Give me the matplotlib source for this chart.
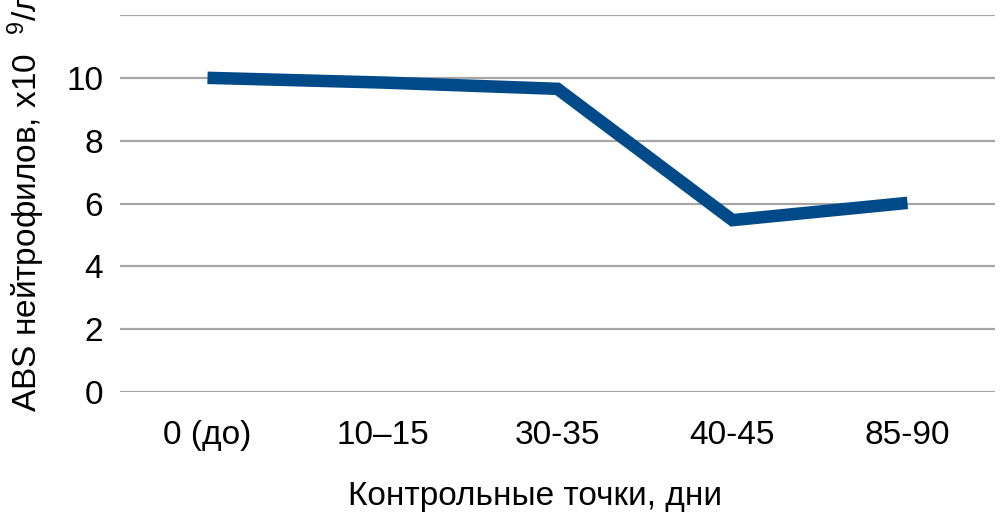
import matplotlib
matplotlib.use('Agg')
import matplotlib.pyplot as plt

# Данные
points = ['0 (до)', '10–15', '30-35', '40-45', '85-90']
abs_neutro = [10.0, 9.85, 9.65, 5.47, 6.02]
y_ticks = [0, 2, 4, 6, 8, 10, 12]
y_tick_labels = ['0', '2', '4', '6', '8', '10', '']

plt.rcParams['font.family'] = ['Liberation Sans', 'DejaVu Sans']
plt.rcParams['mathtext.fontset'] = 'custom'
plt.rcParams['mathtext.rm'] = 'Liberation Sans'
plt.rcParams['mathtext.it'] = 'Liberation Sans'

fig = plt.figure(figsize=(10, 5.18), dpi=100)
ax = fig.add_axes([0.12, 1 - 392 / 518, 0.875, (392 - 15) / 518])

ax.plot(range(len(points)), abs_neutro, color='#004A89', linewidth=9,
        solid_joinstyle='miter', solid_capstyle='butt', zorder=3)

ax.set_xlim(-0.5, len(points) - 0.5)
ax.set_ylim(0, 12)
ax.set_yticks(y_ticks)
ax.set_yticklabels(y_tick_labels)
ax.set_xticks(range(len(points)))
ax.set_xticklabels(points)
ax.tick_params(axis='both', length=0, labelsize=24, colors='black')
ax.tick_params(axis='y', pad=12)
ax.tick_params(axis='x', pad=20)

ax.grid(axis='y', color='#A6A6A6', linewidth=1.6)
ax.set_axisbelow(True)
for s in ax.spines.values():
    s.set_visible(False)

fig.text(0.026, 1 - 412 / 518, 'ABS нейтрофилов, x10  $^{9}$/л', rotation=90,
         ha='center', va='bottom', fontsize=24)
fig.text(0.535, 1 - 497 / 518, 'Контрольные точки, дни', ha='center',
         va='center', fontsize=24)

fig.savefig('out.png', dpi=100)
